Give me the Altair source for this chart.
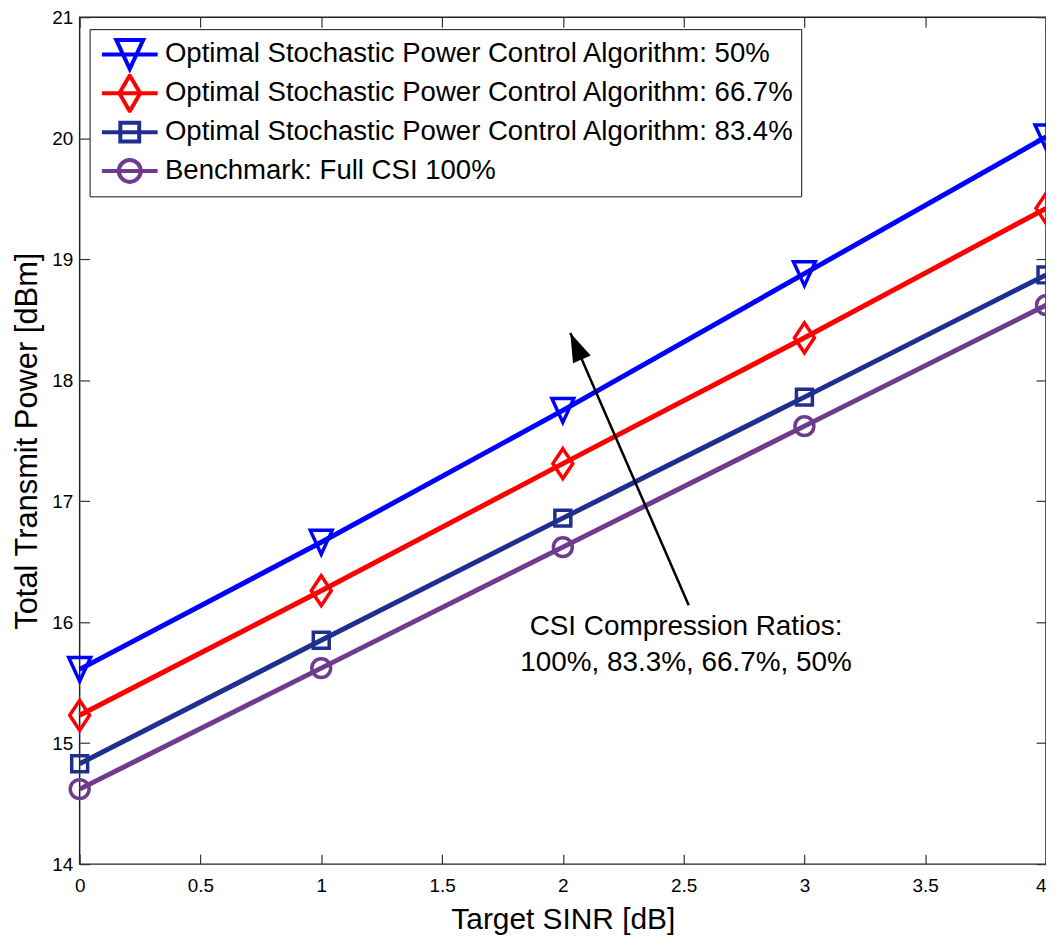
import altair as alt
import pandas as pd

# ---------------- data ----------------
sinr = [0, 1, 2, 3, 4]
series_names = [
    "Optimal Stochastic Power Control Algorithm: 50%",
    "Optimal Stochastic Power Control Algorithm: 66.7%",
    "Optimal Stochastic Power Control Algorithm: 83.4%",
    "Benchmark: Full CSI 100%",
]
power_50 = [15.61, 16.66, 17.75, 18.88, 20.01]
power_667 = [15.23, 16.26, 17.31, 18.35, 19.42]
power_834 = [14.83, 15.85, 16.86, 17.86, 18.87]
power_full = [14.62, 15.62, 16.62, 17.62, 18.62]
series_colors = ["#0000ff", "#ff0000", "#1f2f8f", "#6e3b8e"]

x_ticks = [0, 0.5, 1, 1.5, 2, 2.5, 3, 3.5, 4]
y_ticks = [14, 15, 16, 17, 18, 19, 20, 21]

arrow_x = [2.521, 2.031]   # tail, tip
arrow_y = [16.14, 18.39]
note_lines = ["CSI Compression Ratios:", "100%, 83.3%, 66.7%, 50%"]
note_x = [2.51, 2.51]
note_y = [15.96, 15.66]

# ---------------- marker shapes ----------------
marker_paths = [
    "M-1.1,-1.2L1.1,-1.2L0,1.2Z",                                  # triangle down
    "M0,-1.5L1,0L0,1.5L-1,0Z",                                      # diamond
    "M-0.8,-0.8H0.8V0.8H-0.8Z",                                     # square
    "M0.95,0A0.95,0.95,0,1,1,-0.95,0A0.95,0.95,0,1,1,0.95,0Z",     # circle
]
legend_paths = [
    "M-2.8,0H2.8M-1.35,-1.45L1.35,-1.45L0,1.45Z",
    "M-2.8,0H2.8M0,-1.8L1.05,0L0,1.8L-1.05,0Z",
    "M-2.8,0H2.8M-0.95,-0.95H0.95V0.95H-0.95Z",
    "M-2.8,0H2.8M1.1,0A1.1,1.1,0,1,1,-1.1,0A1.1,1.1,0,1,1,1.1,0Z",
]

rows = []
for name, vals in zip(series_names, [power_50, power_667, power_834, power_full]):
    for xv, yv in zip(sinr, vals):
        rows.append({"sinr": xv, "power": yv, "series": name})
df = pd.DataFrame(rows)

arrow_df = pd.DataFrame({"x": [arrow_x[0]], "y": [arrow_y[0]],
                         "x2": [arrow_x[1]], "y2": [arrow_y[1]]})
tip_df = pd.DataFrame({"x": [arrow_x[1]], "y": [arrow_y[1]]})
note_df = pd.DataFrame({"x": note_x, "y": note_y, "text": note_lines})

FONT = "Liberation Sans"
xscale = alt.Scale(domain=[0, 4], nice=False, zero=False)
yscale = alt.Scale(domain=[14, 21], nice=False, zero=False)

common_axis = dict(values=x_ticks, domain=False, grid=False, offset=-10, tickSize=10,
                   tickColor="#333333", tickWidth=1.2)

x_main = alt.X("sinr:Q", scale=xscale, axis=alt.Axis(
    orient="bottom", format="~g", title="Target SINR [dB]", labelFont=FONT,
    labelFontSize=19, labelColor="black", labelPadding=13, labelFlush=False,
    labelAlign={"condition": {"test": "datum.value == 4", "value": "right"},
                "value": "center"},
    titleFont=FONT, titleFontSize=30, titleFontWeight="normal", titleColor="black",
    titlePadding=9, **common_axis))
y_main = alt.Y("power:Q", scale=yscale, axis=alt.Axis(
    orient="left", values=y_ticks, domain=False, grid=False, offset=-10, tickSize=10,
    tickColor="#333333", tickWidth=1.2, format="~g", labelFlush=False,
    title="Total Transmit Power [dBm]", labelFont=FONT, labelFontSize=19,
    labelColor="black", labelPadding=7, titleFont=FONT, titleFontSize=31,
    titleFontWeight="normal", titleColor="black", titlePadding=8))

x_top = alt.X("sinr:Q", scale=xscale, axis=alt.Axis(
    orient="top", labels=False, title=None, **common_axis))
y_right = alt.Y("power:Q", scale=yscale, axis=alt.Axis(
    orient="right", values=y_ticks, labels=False, title=None, domain=False, grid=False,
    offset=-10, tickSize=10, tickColor="#333333", tickWidth=1.2))

color_scale = alt.Scale(domain=series_names, range=series_colors)

lines = alt.Chart(df).mark_line(strokeWidth=5).encode(
    x=x_main, y=y_main,
    color=alt.Color("series:N", scale=color_scale, legend=None),
)

points = alt.Chart(df).mark_point(filled=False, size=400, strokeWidth=3.5, opacity=1).encode(
    x=x_top, y=y_right,
    color=alt.Color("series:N", scale=color_scale, legend=None),
    shape=alt.Shape("series:N", scale=alt.Scale(domain=series_names, range=marker_paths),
                    legend=None),
)

legend_layer = alt.Chart(df).transform_calculate(
    hidden="datum.power + 100"
).mark_point(filled=False, size=400, strokeWidth=3.5, opacity=1, clip=True).encode(
    x=alt.X("sinr:Q", scale=xscale, axis=None),
    y=alt.Y("hidden:Q", scale=yscale, axis=None),
    color=alt.Color("series:N", scale=color_scale, legend=alt.Legend(
        orient="none", legendX=10, legendY=12, title=None,
        labelFont=FONT, labelFontSize=27.7, labelColor="black", labelLimit=0,
        symbolSize=400, symbolStrokeWidth=4, symbolOffset=20.5, labelOffset=21.5,
        clipHeight=39, padding=6, rowPadding=0,
        strokeColor="#111111", fillColor="white")),
    shape=alt.Shape("series:N", scale=alt.Scale(domain=series_names, range=legend_paths)),
)

arrow = alt.Chart(arrow_df).mark_rule(strokeWidth=2.5, color="black").encode(
    x=alt.X("x:Q", scale=xscale, axis=None), x2="x2:Q",
    y=alt.Y("y:Q", scale=yscale, axis=None), y2="y2:Q",
)
arrow_head = alt.Chart(tip_df).mark_point(
    shape="M0,0L0.67,2L-0.67,2Z", filled=True, size=841, angle=336.4,
    color="black", opacity=1).encode(
    x=alt.X("x:Q", scale=xscale, axis=None),
    y=alt.Y("y:Q", scale=yscale, axis=None),
)

note = alt.Chart(note_df).mark_text(font=FONT, fontSize=28, align="center",
                                    baseline="middle", color="black").encode(
    x=alt.X("x:Q", scale=xscale, axis=None),
    y=alt.Y("y:Q", scale=yscale, axis=None),
    text="text:N",
)

chart = alt.layer(lines, points, legend_layer, arrow, arrow_head, note).resolve_scale(
    color="independent", shape="independent"
).resolve_axis(
    x="independent", y="independent"
).properties(
    width=971, height=851,
    autosize=alt.AutoSizeParams(type="none"),
    padding={"left": 72, "top": 7, "right": 0, "bottom": 75},
    background="white",
).configure_view(stroke="#222222", strokeWidth=1.5)

chart.save("out.html", embed_options={"renderer": "svg", "actions": False})
